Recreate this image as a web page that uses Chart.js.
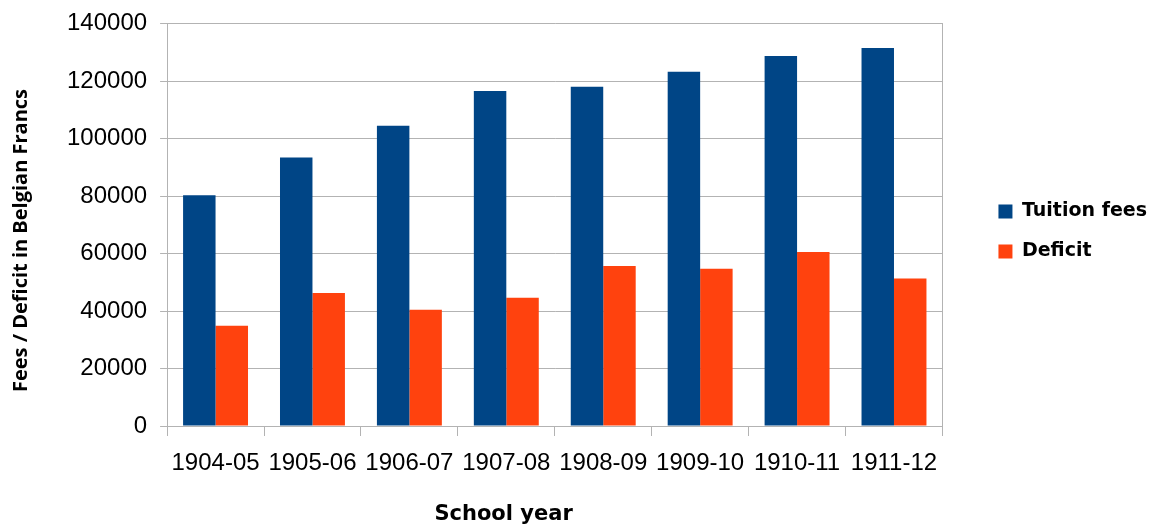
<!DOCTYPE html>
<html>
<head>
<meta charset="utf-8">
<script src="https://cdn.jsdelivr.net/npm/chart.js@4"></script>
<style>
  html, body { margin: 0; padding: 0; background: #fff; }
  #wrap { width: 1157px; height: 527px; }
</style>
</head>
<body>
<div id="wrap"><canvas id="chart"></canvas></div>
<script>
const schoolYears = ["1904-05", "1905-06", "1906-07", "1907-08", "1908-09", "1909-10", "1910-11", "1911-12"];
const tuitionFees = [80300, 93500, 104500, 116600, 118100, 123300, 128800, 131600];
const deficit = [34900, 46300, 40500, 44600, 55700, 54700, 60600, 51300];
const yTicks = { min: 0, max: 140000, step: 20000 };

const gridColor = "#b3b3b3";

new Chart(document.getElementById("chart"), {
  type: "bar",
  data: {
    labels: schoolYears,
    datasets: [
      { label: "Tuition fees", data: tuitionFees, backgroundColor: "#004586" },
      { label: "Deficit", data: deficit, backgroundColor: "#ff420e" },
    ],
  },
  options: {
    responsive: true,
    maintainAspectRatio: false,
    animation: false,
    categoryPercentage: 0.67,
    barPercentage: 1.0,
    layout: { padding: { left: 6, top: 0, right: 0, bottom: 0 } },
    plugins: {
      legend: {
        position: "right",
        align: "start",
        title: { display: true, text: "", padding: { top: 169, bottom: 0 }, font: { size: 10 } },
        labels: {
          boxWidth: 14,
          boxHeight: 14,
          padding: 21,
          color: "#000",
          font: { family: "DejaVu Sans", weight: "bold", size: 19 },
        },
      },
      tooltip: { enabled: false },
    },
    scales: {
      x: {
        grid: { display: true, drawOnChartArea: false, color: gridColor, tickLength: 10 },
        border: { color: gridColor },
        ticks: { color: "#000", padding: 13, maxRotation: 0, font: { family: "Liberation Sans", size: 24 } },
        title: {
          display: true,
          text: "School year              ",
          color: "#000",
          padding: { top: 11, bottom: 0 },
          font: { family: "DejaVu Sans", weight: "bold", size: 21 },
        },
      },
      y: {
        min: yTicks.min,
        max: yTicks.max,
        ticks: {
          stepSize: yTicks.step,
          color: "#000",
          padding: 13,
          font: { family: "Liberation Sans", size: 24, lineHeight: 0.9 },
          callback: (v) => String(v),
        },
        grid: { color: gridColor, tickLength: 7 },
        border: { color: gridColor },
        title: {
          display: true,
          text: "Fees / Deficit in Belgian Francs      ",
          color: "#000",
          padding: { top: 3, bottom: 21 },
          font: { family: "Open Sans", weight: "bold", size: 20 },
        },
      },
      // right frame line of the plot area, also leaves the gap before the legend
      yRight: {
        position: "right",
        min: yTicks.min,
        max: yTicks.max,
        ticks: { display: false },
        grid: { display: false },
        border: { display: true, color: gridColor },
        title: { display: true, text: "", padding: { top: 0, bottom: 15 }, font: { size: 10 } },
      },
    },
  },
});
</script>
</body>
</html>
